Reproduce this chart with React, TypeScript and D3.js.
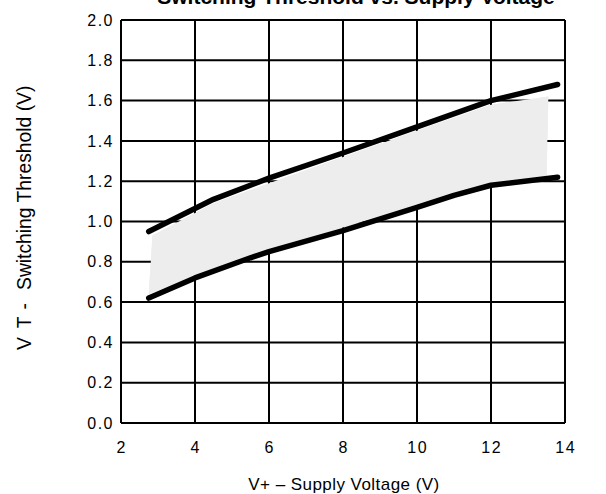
import { scaleLinear, line, range } from "d3";

// supply voltage (V) vs switching threshold (V)
const upperX = [2.75, 4.5, 6, 8, 10, 12, 13.8];
const upperY = [0.95, 1.11, 1.215, 1.34, 1.47, 1.6, 1.68];
const lowerX = [2.75, 4, 5.5, 6, 8, 10, 11, 12, 13.8];
const lowerY = [0.62, 0.72, 0.82, 0.85, 0.955, 1.07, 1.13, 1.18, 1.22];
// shaded spread band (outline)
const bandX = [2.85, 4.5, 6, 8, 10, 12, 13.55, 13.5, 12, 10, 8, 6, 4, 2.75];
const bandY = [0.93, 1.09, 1.19, 1.32, 1.45, 1.58, 1.62, 1.21, 1.18, 1.08, 0.97, 0.86, 0.73, 0.64];
const xTicks = range(2, 15, 2);
const yTicks = range(0, 11).map((i) => i * 0.2);

export default function App() {
  const width = 606,
    height = 494;
  const left = 121,
    right = 565,
    top = 20,
    bottom = 423;
  const x = scaleLinear().domain([2, 14]).range([left, right]);
  const y = scaleLinear().domain([0, 2]).range([bottom, top]);
  const mk = (xs: number[], ys: number[]) =>
    line<number>()
      .x((d) => x(d))
      .y((_, i) => y(ys[i]))(xs) as string;
  const font = "'Liberation Sans', Arial, sans-serif";

  return (
    <svg
      width={width}
      height={height}
      style={{ position: "absolute", left: 0, top: 0, background: "#fff" }}
      fontFamily={font}
    >
      <text x={356} y={4} textAnchor="middle" fontWeight="bold" fontSize={21}>
        Switching Threshold vs. Supply Voltage
      </text>
      <path d={mk(bandX, bandY) + "Z"} fill="#ededed" stroke="none" />
      {xTicks.map((t) => (
        <line key={"x" + t} x1={x(t)} x2={x(t)} y1={top} y2={bottom} stroke="#000" strokeWidth={2} />
      ))}
      {yTicks.map((t) => (
        <line key={"y" + t} x1={left} x2={right} y1={y(t)} y2={y(t)} stroke="#000" strokeWidth={2} />
      ))}
      <path d={mk(bandX, bandY) + "Z"} fill="#ededed" stroke="none" />
      <path d={mk(upperX, upperY)} fill="none" stroke="#000" strokeWidth={5.5} strokeLinecap="round" strokeLinejoin="round" />
      <path d={mk(lowerX, lowerY)} fill="none" stroke="#000" strokeWidth={5.5} strokeLinecap="round" strokeLinejoin="round" />
      {yTicks.map((t) => (
        <text key={"yl" + t} x={114} y={y(t)} dy="0.35em" textAnchor="end" fontSize={16} letterSpacing={1.5}>
          {t.toFixed(1)}
        </text>
      ))}
      {xTicks.map((t) => (
        <text key={"xl" + t} x={x(t) + 0.75} y={453} textAnchor="middle" fontSize={16} letterSpacing={1.5}>
          {t}
        </text>
      ))}
      <text x={344} y={490} textAnchor="middle" fontSize={17} letterSpacing={0.45}>
        V+ – Supply Voltage (V)
      </text>
      <text transform="translate(31,350) rotate(-90)" textAnchor="start" fontSize={19.3}>
        <tspan>V</tspan>
        <tspan dx={9}>T</tspan>
        <tspan dx={8}>-</tspan>
        <tspan dx={13}>Switching Threshold (V)</tspan>
      </text>
    </svg>
  );
}
